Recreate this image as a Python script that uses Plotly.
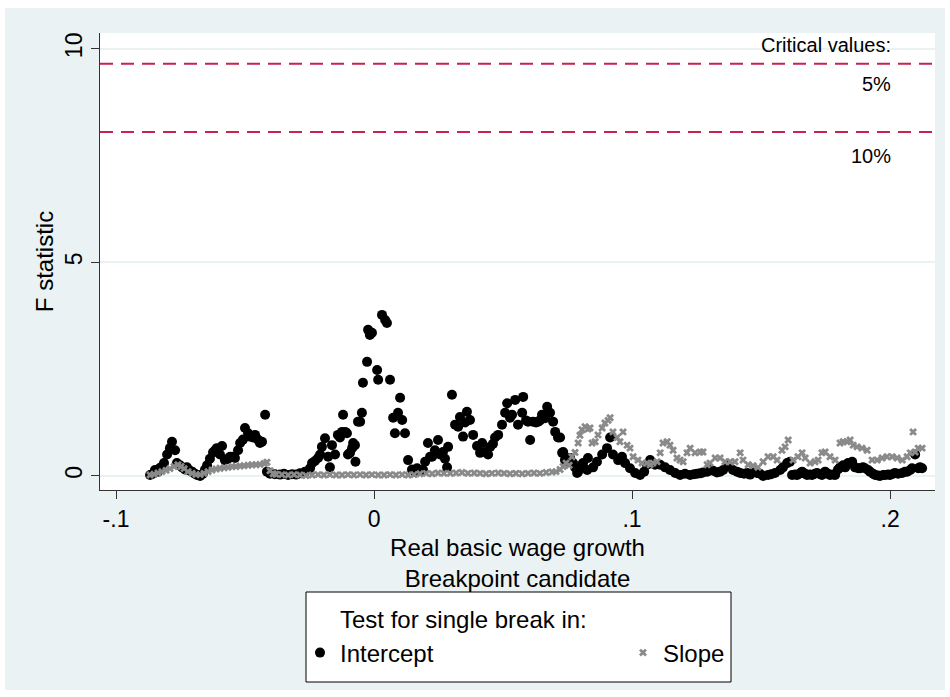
import plotly.graph_objects as go

# ---------------- data ----------------
intercept_x = [
    -0.0868, -0.0857, -0.0849, -0.0837, -0.0829, -0.0814, -0.0802, -0.0791, -0.0783, -0.0771,
    -0.0764, -0.0752, -0.0744, -0.0733, -0.0725, -0.0713, -0.0705, -0.0694, -0.0686, -0.0674,
    -0.0663, -0.0655, -0.0647, -0.0636, -0.0624, -0.0616, -0.0609, -0.0597, -0.0589, -0.0578,
    -0.0566, -0.0558, -0.0547, -0.0539, -0.0527, -0.0519, -0.0508, -0.0500, -0.0488, -0.0481,
    -0.0469, -0.0461, -0.0450, -0.0442, -0.0434, -0.0422, -0.0415, -0.0403, -0.0384, -0.0364,
    -0.0349, -0.0333, -0.0318, -0.0302, -0.0287, -0.0267, -0.0248, -0.0240, -0.0229, -0.0217,
    -0.0209, -0.0202, -0.0190, -0.0178, -0.0171, -0.0163, -0.0151, -0.0140, -0.0132, -0.0124,
    -0.0120, -0.0112, -0.0105, -0.0101, -0.0093, -0.0085, -0.0081, -0.0074, -0.0072, -0.0062,
    -0.0054, -0.0047, -0.0043, -0.0027, -0.0023, -0.0016, -0.0008, 0.0012, 0.0016, 0.0031,
    0.0043, 0.0050, 0.0062, 0.0074, 0.0081, 0.0093, 0.0101, 0.0109, 0.0120, 0.0132,
    0.0147, 0.0159, 0.0167, 0.0178, 0.0190, 0.0198, 0.0209, 0.0217, 0.0225, 0.0236,
    0.0248, 0.0256, 0.0267, 0.0275, 0.0283, 0.0287, 0.0302, 0.0314, 0.0326, 0.0333,
    0.0345, 0.0353, 0.0360, 0.0372, 0.0384, 0.0399, 0.0411, 0.0419, 0.0430, 0.0442,
    0.0450, 0.0461, 0.0469, 0.0481, 0.0496, 0.0508, 0.0516, 0.0527, 0.0535, 0.0547,
    0.0558, 0.0574, 0.0578, 0.0589, 0.0597, 0.0605, 0.0616, 0.0628, 0.0636, 0.0643,
    0.0651, 0.0663, 0.0671, 0.0682, 0.0694, 0.0702, 0.0713, 0.0721, 0.0729, 0.0733,
    0.0740, 0.0748, 0.0760, 0.0771, 0.0779, 0.0787, 0.0791, 0.0806, 0.0810, 0.0826,
    0.0829, 0.0849, 0.0864, 0.0884, 0.0903, 0.0915, 0.0926, 0.0946, 0.0961, 0.0973,
    0.0992, 0.1012, 0.1031, 0.1047, 0.1058, 0.1070, 0.1089, 0.1109, 0.1128, 0.1147,
    0.1167, 0.1186, 0.1205, 0.1225, 0.1240, 0.1252, 0.1264, 0.1275, 0.1291, 0.1302,
    0.1314, 0.1329, 0.1341, 0.1353, 0.1372, 0.1391, 0.1407, 0.1419, 0.1434, 0.1446,
    0.1457, 0.1469, 0.1484, 0.1496, 0.1508, 0.1527, 0.1539, 0.1554, 0.1574, 0.1585,
    0.1601, 0.1612, 0.1620, 0.1632, 0.1640, 0.1651, 0.1659, 0.1671, 0.1678, 0.1690,
    0.1698, 0.1709, 0.1717, 0.1729, 0.1736, 0.1748, 0.1760, 0.1767, 0.1779, 0.1787,
    0.1798, 0.1806, 0.1818, 0.1826, 0.1837, 0.1853, 0.1864, 0.1876, 0.1884, 0.1895,
    0.1903, 0.1915, 0.1922, 0.1934, 0.1942, 0.1953, 0.1961, 0.1973, 0.1981, 0.1992,
    0.2000, 0.2012, 0.2019, 0.2031, 0.2047, 0.2058, 0.2066, 0.2078, 0.2085, 0.2097,
    0.2109, 0.2116, 0.2124,
]
intercept_f = [
    0.02, 0.05, 0.14, 0.10, 0.19, 0.30, 0.50, 0.65, 0.80, 0.60,
    0.30, 0.25, 0.20, 0.15, 0.20, 0.12, 0.10, 0.05, 0.02, 0.00,
    0.05, 0.15, 0.25, 0.40, 0.55, 0.60, 0.65, 0.50, 0.70, 0.37,
    0.40, 0.45, 0.45, 0.42, 0.60, 0.77, 0.85, 1.12, 1.00, 0.92,
    0.90, 0.96, 0.85, 0.77, 0.80, 1.43, 0.10, 0.05, 0.04, 0.03,
    0.05, 0.02, 0.04, 0.03, 0.06, 0.10, 0.18, 0.30, 0.35, 0.42,
    0.50, 0.68, 0.88, 0.45, 0.20, 0.72, 0.50, 0.96, 0.90, 1.03,
    1.43, 1.03, 1.00, 0.50, 0.54, 0.65, 0.77, 0.72, 0.33, 1.27,
    1.27, 1.48, 2.18, 2.67, 3.42, 3.30, 3.35, 2.48, 2.25, 3.77,
    3.65, 3.58, 2.25, 1.36, 1.00, 1.48, 1.83, 1.31, 1.00, 0.37,
    0.15, 0.10, 0.18, 0.12, 0.14, 0.33, 0.77, 0.45, 0.45, 0.60,
    0.84, 0.50, 0.56, 0.40, 0.20, 0.68, 1.90, 1.20, 1.15, 1.38,
    0.92, 1.25, 1.50, 1.31, 0.96, 0.70, 0.54, 0.77, 0.56, 0.50,
    0.68, 0.75, 0.90, 0.96, 1.20, 1.48, 1.70, 1.36, 1.43, 1.78,
    1.20, 1.48, 1.85, 1.30, 1.27, 0.84, 1.27, 1.25, 1.27, 1.30,
    1.43, 1.35, 1.62, 1.48, 1.27, 1.03, 0.90, 0.90, 0.54, 0.56,
    0.37, 0.33, 0.42, 0.30, 0.20, 0.07, 0.10, 0.26, 0.30, 0.14,
    0.42, 0.20, 0.33, 0.50, 0.65, 0.90, 0.50, 0.37, 0.45, 0.30,
    0.18, 0.07, 0.02, 0.10, 0.26, 0.37, 0.26, 0.26, 0.20, 0.14,
    0.07, 0.02, 0.05, 0.02, 0.04, 0.05, 0.06, 0.08, 0.10, 0.14,
    0.12, 0.08, 0.10, 0.14, 0.26, 0.14, 0.10, 0.07, 0.05, 0.07,
    0.03, 0.08, 0.07, 0.05, 0.00, 0.02, 0.04, 0.07, 0.14, 0.20,
    0.30, 0.33, 0.02, 0.03, 0.02, 0.06, 0.10, 0.05, 0.02, 0.03,
    0.02, 0.05, 0.07, 0.04, 0.02, 0.10, 0.05, 0.02, 0.03, 0.02,
    0.15, 0.20, 0.25, 0.20, 0.30, 0.33, 0.20, 0.18, 0.18, 0.20,
    0.18, 0.14, 0.10, 0.05, 0.02, 0.01, 0.00, 0.02, 0.02, 0.03,
    0.02, 0.05, 0.07, 0.05, 0.07, 0.10, 0.10, 0.14, 0.18, 0.50,
    0.18, 0.20, 0.18,
]

slope_x = [
    -0.0868, -0.0853, -0.0837, -0.0822, -0.0806, -0.0791, -0.0775, -0.0760, -0.0748, -0.0736,
    -0.0721, -0.0705, -0.0690, -0.0674, -0.0659, -0.0643, -0.0628, -0.0612, -0.0597, -0.0581,
    -0.0566, -0.0550, -0.0535, -0.0519, -0.0504, -0.0488, -0.0473, -0.0457, -0.0442, -0.0426,
    -0.0415, -0.0403, -0.0391, -0.0380, -0.0357, -0.0333, -0.0310, -0.0287, -0.0264, -0.0240,
    -0.0217, -0.0194, -0.0171, -0.0147, -0.0124, -0.0101, -0.0078, -0.0054, -0.0031, -0.0008,
    0.0016, 0.0039, 0.0062, 0.0085, 0.0109, 0.0132, 0.0155, 0.0178, 0.0202, 0.0225,
    0.0248, 0.0271, 0.0295, 0.0318, 0.0341, 0.0364, 0.0388, 0.0411, 0.0434, 0.0457,
    0.0481, 0.0504, 0.0527, 0.0550, 0.0574, 0.0597, 0.0620, 0.0643, 0.0667, 0.0690,
    0.0705, 0.0721, 0.0733, 0.0744, 0.0756, 0.0767, 0.0779, 0.0791, 0.0798, 0.0806,
    0.0818, 0.0829, 0.0837, 0.0845, 0.0857, 0.0868, 0.0884, 0.0895, 0.0907, 0.0915,
    0.0926, 0.0942, 0.0953, 0.0965, 0.0981, 0.0992, 0.1004, 0.1023, 0.1039, 0.1058,
    0.1070, 0.1081, 0.1097, 0.1109, 0.1120, 0.1136, 0.1147, 0.1159, 0.1174, 0.1186,
    0.1198, 0.1213, 0.1225, 0.1244, 0.1264, 0.1275, 0.1291, 0.1302, 0.1322, 0.1341,
    0.1360, 0.1380, 0.1399, 0.1419, 0.1430, 0.1450, 0.1469, 0.1488, 0.1508, 0.1527,
    0.1547, 0.1562, 0.1581, 0.1593, 0.1605, 0.1624, 0.1643, 0.1659, 0.1671, 0.1690,
    0.1709, 0.1721, 0.1736, 0.1748, 0.1767, 0.1787, 0.1806, 0.1818, 0.1833, 0.1845,
    0.1857, 0.1872, 0.1891, 0.1911, 0.1930, 0.1950, 0.1969, 0.1988, 0.2008, 0.2027,
    0.2047, 0.2066, 0.2078, 0.2089, 0.2097, 0.2109, 0.2124,
]
slope_f = [
    0.02, 0.04, 0.07, 0.10, 0.13, 0.17, 0.22, 0.26, 0.22, 0.17,
    0.10, 0.06, 0.03, 0.03, 0.06, 0.10, 0.14, 0.16, 0.18, 0.19,
    0.20, 0.22, 0.22, 0.23, 0.24, 0.25, 0.26, 0.26, 0.27, 0.29,
    0.32, 0.12, 0.05, 0.04, 0.03, 0.02, 0.03, 0.02, 0.01, 0.02,
    0.03, 0.02, 0.03, 0.02, 0.02, 0.03, 0.02, 0.03, 0.02, 0.03,
    0.02, 0.02, 0.03, 0.02, 0.03, 0.02, 0.03, 0.05, 0.06, 0.05,
    0.07, 0.06, 0.06, 0.07, 0.08, 0.06, 0.07, 0.06, 0.05, 0.06,
    0.07, 0.06, 0.05, 0.06, 0.05, 0.06, 0.07, 0.06, 0.08, 0.09,
    0.10, 0.15, 0.22, 0.30, 0.25, 0.45, 0.55, 0.77, 0.95, 1.08,
    1.15, 1.10, 1.12, 0.77, 0.80, 0.96, 1.12, 1.24, 1.30, 1.36,
    1.03, 0.90, 0.80, 1.03, 0.72, 0.65, 0.45, 0.37, 0.30, 0.30,
    0.26, 0.30, 0.33, 0.54, 0.77, 0.80, 0.72, 0.60, 0.42, 0.37,
    0.33, 0.54, 0.65, 0.54, 0.56, 0.56, 0.26, 0.30, 0.42, 0.42,
    0.33, 0.33, 0.33, 0.54, 0.37, 0.26, 0.24, 0.20, 0.33, 0.45,
    0.45, 0.37, 0.60, 0.68, 0.84, 0.37, 0.45, 0.54, 0.42, 0.30,
    0.33, 0.37, 0.54, 0.56, 0.45, 0.37, 0.77, 0.80, 0.80, 0.84,
    0.72, 0.68, 0.65, 0.60, 0.37, 0.37, 0.42, 0.45, 0.45, 0.42,
    0.37, 0.45, 0.54, 1.03, 0.56, 0.65, 0.65,
]

x_tick_vals = [-0.1, 0.0, 0.1, 0.2]
x_tick_text = ["-.1", "0", ".1", ".2"]
y_tick_vals = [0, 5, 10]
y_tick_text = ["0", "5", "10"]

crit_5pct = 9.65
crit_10pct = 8.05
crit_labels = ["5%", "10%"]

# ---------------- styling ----------------
FONT = "Liberation Sans, Arial, sans-serif"
BG = "#EAF2F3"
RED = "#C8224F"
W, H = 950, 697
ML, MR, MT, MB = 100, 15, 33, 207
PW, PH = W - ML - MR, H - MT - MB


def px_x(p):  # pixel -> paper x
    return (p - ML) / PW


def px_y(p):  # pixel -> paper y
    return (H - MB - p) / PH


fig = go.Figure()
fig.add_trace(go.Scatter(
    x=intercept_x, y=intercept_f, mode="markers", name="Intercept",
    marker=dict(symbol="circle", size=10, color="black", line=dict(width=0)),
))
fig.add_trace(go.Scatter(
    x=slope_x, y=slope_f, mode="markers", name="Slope",
    marker=dict(symbol="x", size=7, color="#8a8a8a", line=dict(width=0)),
))

shapes = [
    # outer light bluish-gray panel
    dict(type="rect", xref="paper", yref="paper", x0=px_x(5), x1=px_x(945),
         y0=px_y(690), y1=px_y(8), fillcolor=BG, line=dict(width=0), layer="below"),
    # white plot region
    dict(type="rect", xref="paper", yref="paper", x0=0, x1=1, y0=0, y1=1,
         fillcolor="white", line=dict(width=0), layer="below"),
    # legend box
    dict(type="rect", xref="paper", yref="paper", x0=px_x(306), x1=px_x(731),
         y0=px_y(682), y1=px_y(592), fillcolor="white",
         line=dict(color="black", width=1), layer="below"),
]
for cv in (crit_5pct, crit_10pct):
    shapes.append(dict(type="line", xref="paper", yref="y", x0=0, x1=1, y0=cv, y1=cv,
                       line=dict(color=RED, width=2, dash="13px,8px"), layer="above"))

annotations = [
    dict(text="Critical values:", x=0.2012, y=10.09, xref="x", yref="y",
         xanchor="right", yanchor="middle", showarrow=False,
         font=dict(family=FONT, size=20, color="black")),
    dict(text=crit_labels[0], x=0.2012, y=9.18, xref="x", yref="y",
         xanchor="right", yanchor="middle", showarrow=False,
         font=dict(family=FONT, size=20, color="black")),
    dict(text=crit_labels[1], x=0.2012, y=7.5, xref="x", yref="y",
         xanchor="right", yanchor="middle", showarrow=False,
         font=dict(family=FONT, size=20, color="black")),
    dict(text="Test for single break in:", x=px_x(338), y=px_y(619), xref="paper", yref="paper",
         xanchor="left", yanchor="middle", showarrow=False,
         font=dict(family=FONT, size=24, color="black")),
]

fig.update_layout(
    width=W, height=H,
    margin=dict(l=ML, r=MR, t=MT, b=MB, pad=0),
    paper_bgcolor="white",
    plot_bgcolor="rgba(0,0,0,0)",
    font=dict(family=FONT, size=23, color="black"),
    shapes=shapes,
    annotations=annotations,
    showlegend=True,
    legend=dict(
        orientation="h", xref="container", yref="container",
        x=300 / W, y=1 - 653 / H, xanchor="left", yanchor="middle",
        bgcolor="rgba(0,0,0,0)", borderwidth=0,
        font=dict(family=FONT, size=24, color="black"),
        entrywidth=278, entrywidthmode="pixels", itemsizing="trace",
    ),
    xaxis=dict(
        range=[-0.1062, 0.2174], tickvals=x_tick_vals, ticktext=x_tick_text,
        showgrid=False, zeroline=False, showline=True, linecolor="#333333", linewidth=1,
        ticks="outside", ticklen=8, tickcolor="#333333",
        tickfont=dict(family=FONT, size=23, color="black"),
        title=dict(text="Real basic wage growth<br>Breakpoint candidate",
                   font=dict(family=FONT, size=24, color="black"), standoff=8),
        automargin=False,
    ),
    yaxis=dict(
        range=[-0.33, 10.37], tickvals=y_tick_vals, ticktext=y_tick_text, tickangle=-90,
        showgrid=True, gridcolor=BG, gridwidth=1.5, zeroline=False,
        showline=True, linecolor="#333333", linewidth=1,
        ticks="outside", ticklen=8, tickcolor="#333333",
        tickfont=dict(family=FONT, size=23, color="black"),
        title=dict(text="F statistic", font=dict(family=FONT, size=24, color="black"), standoff=0),
        automargin=False,
    ),
)

fig.write_html(
    "out.html",
    config={"displayModeBar": False},
    post_script="document.body.style.margin='0';document.body.style.overflow='hidden';",
)
